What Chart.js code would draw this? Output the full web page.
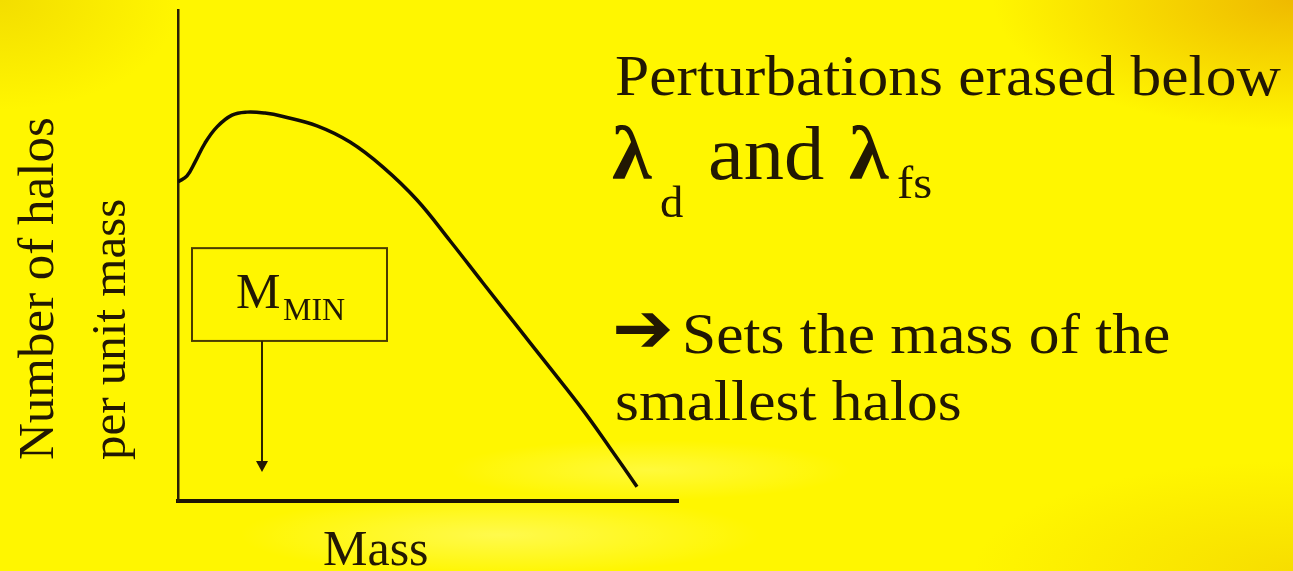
<!DOCTYPE html>
<html lang="en">
<head>
<meta charset="UTF-8"/>
<title>Number of halos per unit mass</title>
<script src="https://cdn.jsdelivr.net/npm/chart.js@4.4.2/dist/chart.umd.min.js"></script>
<style>
html,body{margin:0;padding:0;overflow:hidden}
body{
  width:1293px;height:571px;
  background:
    radial-gradient(ellipse 300px 130px at 100% 0%,rgba(232,160,0,.7),rgba(232,160,0,0)),
    radial-gradient(ellipse 180px 110px at 0% 0%,rgba(225,185,0,.4),rgba(225,185,0,0)),
    radial-gradient(ellipse 320px 110px at 100% 100%,rgba(235,185,0,.4),rgba(235,185,0,0)),
    radial-gradient(ellipse 260px 40px at 500px 535px,rgba(255,255,170,.45),rgba(255,255,170,0)),
    radial-gradient(ellipse 200px 30px at 650px 470px,rgba(255,255,170,.35),rgba(255,255,170,0)),
    #fff600;
}
#wrap{position:relative;width:1293px;height:571px}
</style>
</head>
<body>
<div id="wrap"><canvas id="chart"></canvas></div>
<script>
// halo mass function sketch, arbitrary units 0..100 on both axes
const massX  =[0,1.8,3.4,5.4,7.8,10.8,13.8,17.4,21.0,27.8,34.4,41.0,47.8,54.4,61.0,67.8,74.4,81.0,86.4,91.8];
const countY =[65.0,66.2,69.0,72.9,76.2,78.6,79.2,79.0,78.3,76.4,73.1,68.0,61.3,53.0,44.4,35.6,27.1,18.5,10.8,2.9];
// M_MIN marker: box corners and arrow position, same units
const boxX=[2.8,41.8], boxY=[32.6,51.5];
const mMin=16.8, arrowTipY=5.9;

const ink="#221803";
const serif='"Liberation Serif","Times New Roman",serif';

function txt(ctx,s,x,y,size,sx,weight){
  ctx.save();
  ctx.font=(weight||"normal")+" "+size+"px "+serif;
  ctx.translate(x,y);ctx.scale(sx||1,1);
  ctx.fillText(s,0,0);
  ctx.restore();
}

const notes={
  id:"notes",
  afterDraw(c){
    const ctx=c.ctx, xs=c.scales.x, ys=c.scales.y;
    ctx.save();
    ctx.fillStyle=ink;ctx.textBaseline="alphabetic";ctx.textAlign="left";

    // M_MIN box + arrow
    const l=xs.getPixelForValue(boxX[0]), r=xs.getPixelForValue(boxX[1]);
    const t=ys.getPixelForValue(boxY[1]), b=ys.getPixelForValue(boxY[0]);
    ctx.strokeStyle="#4a3c00";ctx.lineWidth=2;
    ctx.strokeRect(l,t,r-l,b-t);
    txt(ctx,"M",236,308,50);
    txt(ctx,"MIN",283,320,32);
    const ax=xs.getPixelForValue(mMin), tip=ys.getPixelForValue(arrowTipY);
    ctx.strokeStyle="#2e2400";ctx.lineWidth=2;
    ctx.beginPath();ctx.moveTo(ax,b);ctx.lineTo(ax,tip-8);ctx.stroke();
    ctx.beginPath();ctx.moveTo(ax-6,tip-11);ctx.lineTo(ax+6,tip-11);ctx.lineTo(ax,tip);ctx.closePath();ctx.fill();

    // axis labels
    txt(ctx,"Mass",323,565,50);
    ctx.save();ctx.translate(53,460);ctx.rotate(-Math.PI/2);
    txt(ctx,"Number of halos",0,0,51);
    ctx.restore();
    ctx.save();ctx.translate(125,460);ctx.rotate(-Math.PI/2);
    txt(ctx,"per unit mass",0,0,49);
    ctx.restore();

    // right-hand notes
    txt(ctx,"Perturbations erased below",615,95,58,1.06);
    txt(ctx,"\u03bb",612,179,76,1.06,"bold");
    txt(ctx,"d",660,217,44,1.06);
    txt(ctx,"and",708,179,76,1.06);
    txt(ctx,"\u03bb",849,179,76,1.06,"bold");
    txt(ctx,"fs",897,198,46,1.06);
    ctx.save();
    ctx.font='bold 64px "DejaVu Sans",sans-serif';
    ctx.textBaseline="middle";
    ctx.translate(612,334);ctx.scale(1.15,1.1);
    ctx.fillText("\u2794",0,0);
    ctx.restore();
    txt(ctx,"Sets the mass of the",682,353,58,1.06);
    txt(ctx,"smallest halos",615,420,58,1.06);
    ctx.restore();
  }
};

new Chart(document.getElementById("chart"),{
  type:"line",
  data:{datasets:[{
    data:massX.map((x,i)=>({x,y:countY[i]})),
    borderColor:"#120d02",borderWidth:3.5,pointRadius:0,
    tension:0.4,fill:false
  }]},
  options:{
    responsive:true,maintainAspectRatio:false,animation:false,
    layout:{padding:{left:178,top:10,right:615,bottom:70}},
    plugins:{legend:{display:false},tooltip:{enabled:false}},
    scales:{
      x:{type:"linear",min:0,max:100,
        grid:{display:false,drawTicks:false},ticks:{display:false},
        border:{display:true,color:"#1c1404",width:4}},
      y:{min:0,max:100,
        grid:{display:false,drawTicks:false},ticks:{display:false},
        border:{display:true,color:"#2a1f04",width:2.5}}
    }
  },
  plugins:[notes]
});
</script>
</body>
</html>
